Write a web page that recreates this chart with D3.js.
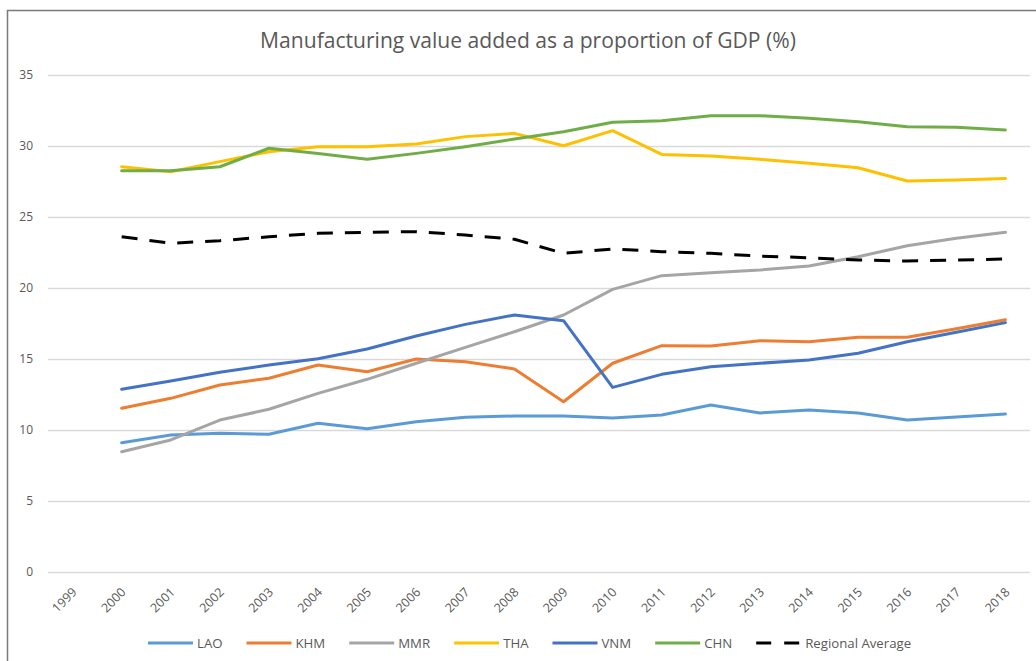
<!DOCTYPE html>
<html>
<head>
<meta charset="utf-8">
<script src="https://cdn.jsdelivr.net/npm/d3@7"></script>
<style>
  html, body { margin: 0; padding: 0; background: #fff; }
  svg { display: block; }
  text { font-family: "Open Sans", "Liberation Sans", sans-serif; fill: #595959; }
</style>
</head>
<body>
<svg id="chart" width="1036" height="661"></svg>
<script>
// ---- Data ----
const years = ["1999","2000","2001","2002","2003","2004","2005","2006","2007","2008","2009",
               "2010","2011","2012","2013","2014","2015","2016","2017","2018"];
const yTicks = [0, 5, 10, 15, 20, 25, 30, 35];
const seriesNames = ["LAO", "KHM", "MMR", "THA", "VNM", "CHN", "Regional Average"];
const LAO = [null, 9.1, 9.65, 9.77, 9.7, 10.47, 10.09, 10.58, 10.89, 10.99, 10.99, 10.85, 11.06, 11.76, 11.2, 11.41, 11.2, 10.7, 10.92, 11.13];
const KHM = [null, 11.53, 12.23, 13.17, 13.64, 14.58, 14.1, 15.0, 14.81, 14.3, 11.99, 14.7, 15.94, 15.92, 16.29, 16.22, 16.53, 16.53, 17.13, 17.77];
const MMR = [null, 8.47, 9.3, 10.7, 11.46, 12.58, 13.57, 14.7, 15.82, 16.92, 18.1, 19.9, 20.87, 21.08, 21.27, 21.55, 22.2, 22.98, 23.5, 23.92];
const THA = [null, 28.54, 28.19, 28.9, 29.6, 29.95, 29.95, 30.14, 30.66, 30.89, 30.02, 31.08, 29.41, 29.3, 29.06, 28.78, 28.47, 27.54, 27.6, 27.72];
const VNM = [null, 12.87, 13.45, 14.06, 14.58, 15.02, 15.7, 16.62, 17.44, 18.1, 17.7, 13.0, 13.92, 14.46, 14.7, 14.93, 15.4, 16.22, 16.88, 17.56];
const CHN = [null, 28.26, 28.26, 28.54, 29.84, 29.48, 29.06, 29.48, 29.95, 30.49, 31.01, 31.67, 31.78, 32.13, 32.13, 31.95, 31.71, 31.36, 31.32, 31.13];
const AVG = [null, 23.61, 23.15, 23.33, 23.61, 23.85, 23.92, 23.97, 23.73, 23.43, 22.44, 22.75, 22.56, 22.44, 22.25, 22.13, 21.97, 21.9, 21.97, 22.04];
const seriesValues = [LAO, KHM, MMR, THA, VNM, CHN, AVG];
const seriesColors = ["#5B9BD5", "#ED7D31", "#A5A5A5", "#FFC000", "#4472C4", "#70AD47", "#000000"];
const seriesDash = [null, null, null, null, null, null, "16,12"];
const title = "Manufacturing value added as a proportion of GDP (%)";

// ---- Layout ----
const svg = d3.select("#chart");
const plot = { left: 48, right: 1030, top: 75, bottom: 572 };

// Frame (cropped at right & bottom)
svg.append("path")
  .attr("d", "M7.5,661 L7.5,10.5 L1036,10.5")
  .attr("fill", "none").attr("stroke", "#7a7a7a").attr("stroke-width", 1.5);

const x = d3.scaleBand().domain(years).range([plot.left, plot.right]);
const y = d3.scaleLinear().domain([0, 35]).range([plot.bottom, plot.top]);
const cx = d => x(d) + x.bandwidth() / 2;

// Gridlines
svg.append("g").selectAll("line").data(yTicks).join("line")
  .attr("x1", plot.left).attr("x2", plot.right)
  .attr("y1", d => Math.round(y(d)) + 0.5).attr("y2", d => Math.round(y(d)) + 0.5)
  .attr("stroke", "#d9d9d9").attr("stroke-width", 1.3);

// Y axis labels
const yAxis = d3.axisLeft(y).tickValues(yTicks).tickSize(0).tickPadding(0);
const gy = svg.append("g").attr("transform", `translate(33,0)`).call(yAxis);
gy.select(".domain").remove();
gy.selectAll("text").attr("font-size", 12).style("font-family", "'Open Sans', sans-serif").attr("fill", "#595959").attr("x", 0);

// X axis labels (rotated)
svg.append("g").selectAll("text").data(years).join("text")
  .attr("text-anchor", "end")
  .attr("font-size", 12.5)
  .attr("transform", d => `translate(${cx(d) + 5},593) rotate(-45)`)
  .text(d => d);

// Title
const t = svg.append("text")
  .attr("x", 528).attr("y", 48)
  .attr("text-anchor", "middle")
  .attr("font-size", 20)
  .text(title);
const tw = t.node().getComputedTextLength();
t.attr("font-size", 20 * 536 / tw);

// Lines
const line = d3.line()
  .defined(d => d.v != null)
  .x(d => cx(d.year))
  .y(d => y(d.v));

seriesNames.forEach((name, i) => {
  const pts = years.map((yr, j) => ({ year: yr, v: seriesValues[i][j] }));
  svg.append("path")
    .datum(pts)
    .attr("d", line)
    .attr("fill", "none")
    .attr("stroke", seriesColors[i])
    .attr("stroke-width", 3)
    .attr("stroke-linejoin", "round")
    .attr("stroke-linecap", seriesDash[i] ? "butt" : "round")
    .attr("stroke-dasharray", seriesDash[i]);
});

// Legend
const lg = svg.append("g");
const probe = lg.append("text").attr("font-size", 12).text("Regional Average");
const legendFont = 12 * 106 / probe.node().getComputedTextLength();
probe.remove();
let lx = 148;
const ly = 643;
seriesNames.forEach((name, i) => {
  lg.append("line")
    .attr("x1", lx).attr("x2", lx + 45)
    .attr("y1", ly).attr("y2", ly)
    .attr("stroke", seriesColors[i]).attr("stroke-width", 3)
    .attr("stroke-dasharray", seriesDash[i] ? "15,13" : null);
  const tx = lg.append("text")
    .attr("x", lx + 49).attr("y", ly + 4.5)
    .attr("font-size", legendFont)
    .text(name);
  lx = lx + 49 + tx.node().getComputedTextLength() + 24;
});
</script>
</body>
</html>
